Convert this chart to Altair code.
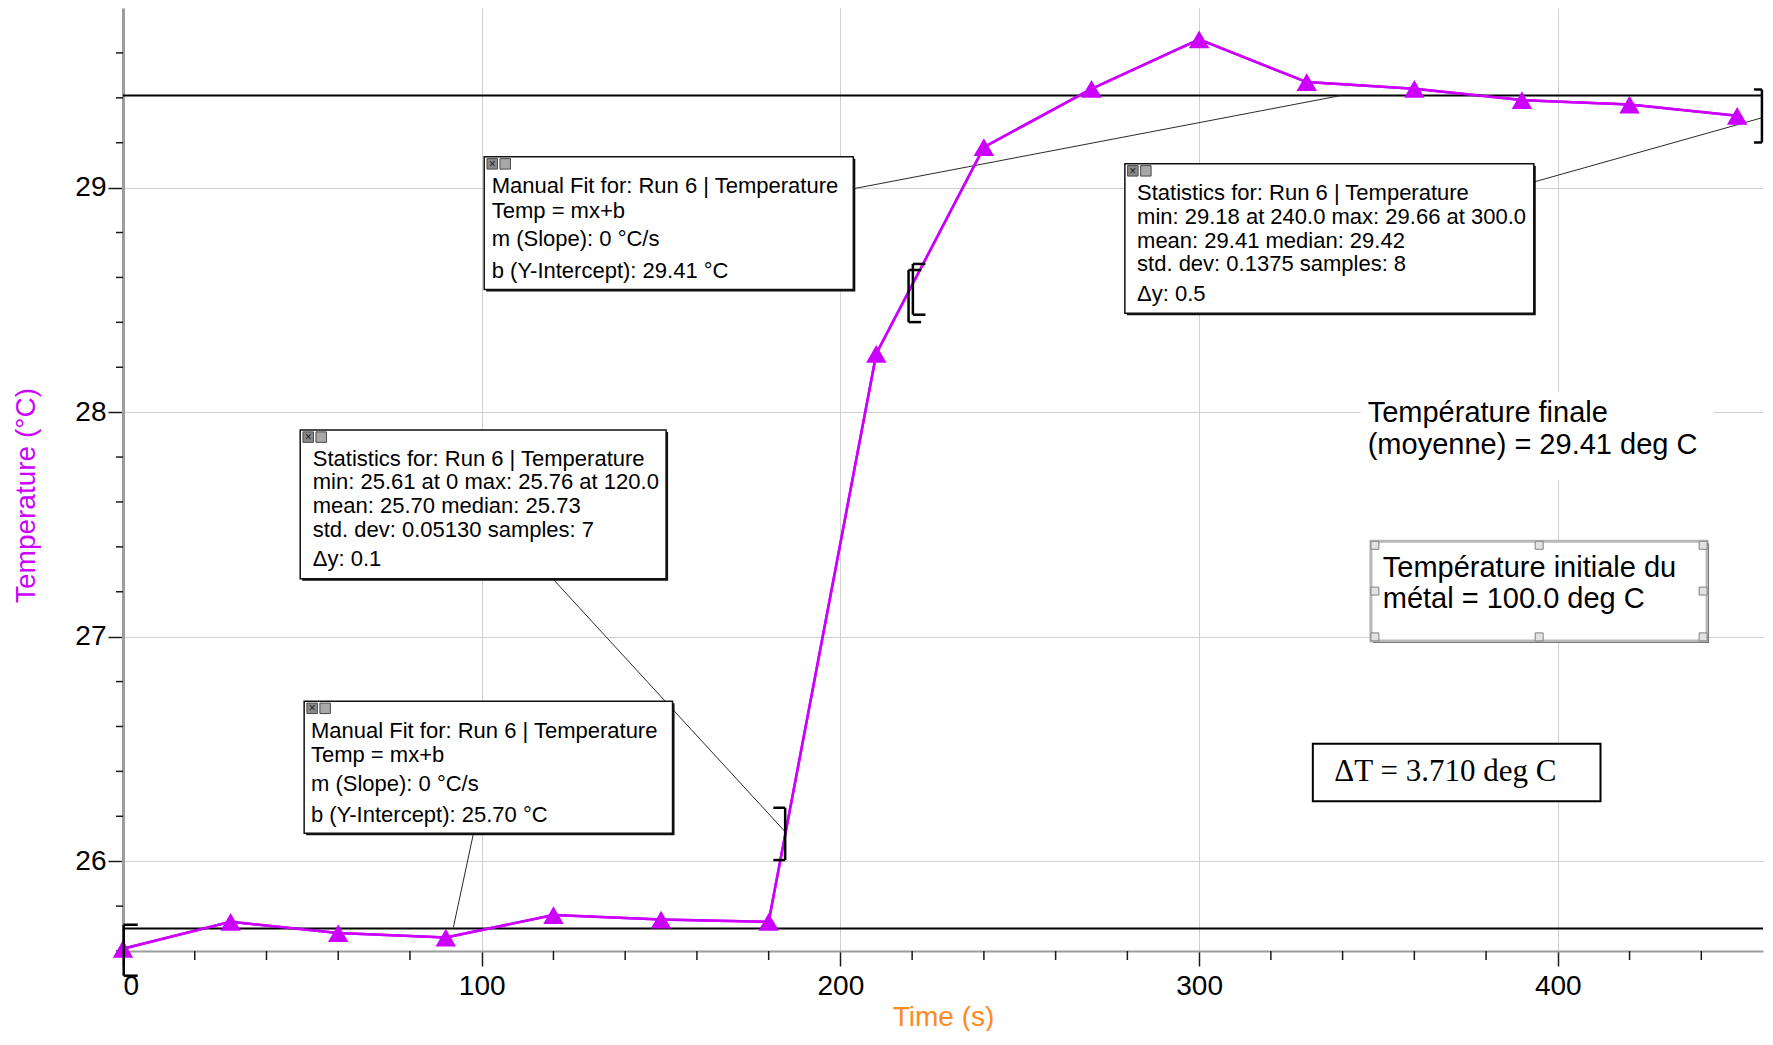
import altair as alt
import pandas as pd

# ---------------- data ----------------
time_s = [0, 30, 60, 90, 120, 150, 180, 210, 240, 270, 300, 330, 360, 390, 420, 450]
temperature_c = [25.61, 25.73, 25.68, 25.66, 25.76, 25.74, 25.73, 28.26, 29.18,
                 29.44, 29.66, 29.47, 29.44, 29.39, 29.37, 29.32]
fit_b = [29.41, 25.70]

x_major = [0, 100, 200, 300, 400]
x_minor = [20, 40, 60, 80, 120, 140, 160, 180, 220, 240, 260, 280,
           320, 340, 360, 380, 420, 440]
y_major = [26, 27, 28, 29]
y_minor = [25.6, 25.8, 26.2, 26.4, 26.6, 26.8, 27.2, 27.4, 27.6, 27.8,
           28.2, 28.4, 28.6, 28.8, 29.2, 29.4, 29.6]

# ---------------- annotation texts ----------------
upper_fit_lines = ["Manual Fit for: Run 6 | Temperature", "Temp = mx+b",
                   "m (Slope): 0 °C/s", "b (Y-Intercept): 29.41 °C"]
upper_stats_lines = ["Statistics for: Run 6 | Temperature",
                     "min: 29.18 at 240.0 max: 29.66 at 300.0",
                     "mean: 29.41 median: 29.42", "std. dev: 0.1375 samples: 8", "Δy: 0.5"]
lower_stats_lines = ["Statistics for: Run 6 | Temperature",
                     "min: 25.61 at 0 max: 25.76 at 120.0",
                     "mean: 25.70 median: 25.73", "std. dev: 0.05130 samples: 7", "Δy: 0.1"]
lower_fit_lines = ["Manual Fit for: Run 6 | Temperature", "Temp = mx+b",
                   "m (Slope): 0 °C/s", "b (Y-Intercept): 25.70 °C"]
final_note = ["Température finale", "(moyenne) = 29.41 deg C"]
metal_note = ["Température initiale du", "métal = 100.0 deg C"]
delta_note = ["ΔT = 3.710 deg C"]

# ---------------- annotation placement (data units) ----------------
X_MAX = 457.2
box_x0 = [100.7, 279.3, 49.4, 50.5]
box_x1 = [203.6, 393.3, 151.4, 153.2]
box_ytop = [29.137, 29.106, 27.920, 26.712]
box_ybot = [28.546, 28.441, 27.258, 26.124]
box_text_x = [102.8, 282.7, 52.9, 52.4]
box_text_y = [[29.007, 28.896, 28.771, 28.630],
              [28.978, 28.867, 28.763, 28.660, 28.527],
              [27.790, 27.687, 27.580, 27.477, 27.347],
              [26.582, 26.471, 26.345, 26.205]]
box_lines = [upper_fit_lines, upper_stats_lines, lower_stats_lines, lower_fit_lines]

leader_x = [203.6, 393.3, 119.8, 97.7]
leader_y = [28.995, 29.025, 27.258, 26.124]
leader_x2 = [339.5, 456.9, 184.6, 92.1]
leader_y2 = [29.41, 29.311, 26.131, 25.705]

# brackets: spine x, arm end x, top y, bottom y
bracket_x = [0.2, 184.6, 219.0, 220.2, 456.9]
bracket_arm = [4.1, 181.3, 222.5, 223.7, 454.7]
bracket_top = [25.717, 26.238, 28.633, 28.660, 29.437]
bracket_bot = [25.49, 26.005, 28.401, 28.434, 29.201]

final_bg = [345.1, 443.5, 27.698, 28.089]
final_text_x = [347.0, 347.0]
final_text_y = [27.994, 27.854]

metal_box = [347.9, 441.6, 26.981, 27.425]
metal_text_x = [351.2, 351.2]
metal_text_y = [27.307, 27.166]
handle_x = [349.0, 394.8, 440.5, 349.0, 440.5, 349.0, 394.8, 440.5]
handle_y = [27.407, 27.407, 27.407, 27.203, 27.203, 26.999, 26.999, 26.999]

delta_box = [331.7, 411.9, 26.267, 26.523]
delta_text_x = [337.7]
delta_text_y = [26.399]

# ---------------- styles ----------------
MAG = "#CC00FF"
ORANGE = "#FF8A1F"
FONT = "Liberation Sans"
TICK = "#1a1a1a"

xs = alt.Scale(domain=[0, X_MAX], nice=False, zero=False)
ys = alt.Scale(domain=[25.6, 29.80], nice=False, zero=False)


def X(f):
    return alt.X(f"{f}:Q", scale=xs)


def Y(f):
    return alt.Y(f"{f}:Q", scale=ys)


x_axis = alt.Axis(
    values=x_major, title="Time (s)", format="d",
    tickSize=15, tickColor=TICK, tickWidth=1.5,
    grid=True, gridColor="#d0d0d0", gridWidth=1,
    domainColor="#9c9c9c", domainWidth=2,
    labelFont=FONT, labelFontSize=28, labelColor="black", labelPadding=6,
    titleFont=FONT, titleFontSize=28, titleFontWeight="normal", titleColor=ORANGE,
    titlePadding=3,
)
y_axis = alt.Axis(
    values=y_major, title="Temperature (°C)", format="d",
    tickSize=15, tickColor=TICK, tickWidth=1.5,
    grid=True, gridColor="#d0d0d0", gridWidth=1,
    domainColor="#9c9c9c", domainWidth=3,
    labelFont=FONT, labelFontSize=28, labelColor="black", labelPadding=2,
    titleFont=FONT, titleFontSize=28, titleFontWeight="normal", titleColor=MAG,
    titlePadding=34, titleY=487,
)

# ---------------- tables ----------------
df_line = pd.DataFrame({"t": time_s, "temp": temperature_c})
df_fit = pd.DataFrame({"b": fit_b, "x0": [0, 0], "x1": [X_MAX, X_MAX]})
df_leader = pd.DataFrame({"x": leader_x, "y": leader_y, "x2": leader_x2, "y2": leader_y2})
df_minor_x = pd.DataFrame({"v": x_minor, "base": [25.6] * len(x_minor)})
df_minor_y = pd.DataFrame({"v": y_minor, "base": [0] * len(y_minor)})

seg = []
for sx, xa, yt, yb in zip(bracket_x, bracket_arm, bracket_top, bracket_bot):
    seg.append({"x": sx, "y": yt, "x2": sx, "y2": yb})
    seg.append({"x": sx, "y": yt, "x2": xa, "y2": yt})
    seg.append({"x": sx, "y": yb, "x2": xa, "y2": yb})
df_bracket = pd.DataFrame(seg)

df_boxes = pd.DataFrame({"x0": box_x0, "x1": box_x1, "ytop": box_ytop, "ybot": box_ybot})
rows = []
for i in range(4):
    for line_, yy in zip(box_lines[i], box_text_y[i]):
        rows.append({"x": box_text_x[i], "y": yy, "label": line_})
df_box_text = pd.DataFrame(rows)

df_final_bg = pd.DataFrame({"x0": [final_bg[0]], "x1": [final_bg[1]], "y0": [final_bg[2]], "y1": [final_bg[3]]})
df_final_text = pd.DataFrame({"x": final_text_x, "y": final_text_y, "label": final_note})
df_metal_box = pd.DataFrame({"x0": [metal_box[0]], "x1": [metal_box[1]], "y0": [metal_box[2]], "y1": [metal_box[3]]})
df_metal_text = pd.DataFrame({"x": metal_text_x, "y": metal_text_y, "label": metal_note})
df_handles = pd.DataFrame({"x": handle_x, "y": handle_y})
df_delta_box = pd.DataFrame({"x0": [delta_box[0]], "x1": [delta_box[1]], "y0": [delta_box[2]], "y1": [delta_box[3]]})
df_delta_text = pd.DataFrame({"x": delta_text_x, "y": delta_text_y, "label": delta_note})

# ---------------- layers ----------------
line_layer = alt.Chart(df_line).mark_line(color=MAG, strokeWidth=2.5).encode(
    x=alt.X("t:Q", scale=xs, axis=x_axis), y=alt.Y("temp:Q", scale=ys, axis=y_axis))

final_bg_layer = alt.Chart(df_final_bg).mark_rect(fill="white").encode(
    x=X("x0"), x2=alt.X2("x1"), y=Y("y0"), y2=alt.Y2("y1"))

minor_x_layer = alt.Chart(df_minor_x).mark_rule(color=TICK, strokeWidth=1.5, y2Offset=9).encode(
    x=X("v"), y=Y("base"), y2=alt.Y2("base"))
minor_y_layer = alt.Chart(df_minor_y).mark_rule(color=TICK, strokeWidth=1.5, xOffset=-7).encode(
    y=Y("v"), x=X("base"), x2=alt.X2("base"))

fit_layer = alt.Chart(df_fit).mark_rule(color="black", strokeWidth=2).encode(
    x=X("x0"), x2=alt.X2("x1"), y=Y("b"))

leader_layer = alt.Chart(df_leader).mark_rule(color="#2a2a2a", strokeWidth=1).encode(
    x=X("x"), y=Y("y"), x2=alt.X2("x2"), y2=alt.Y2("y2"))

line_top = alt.Chart(df_line).mark_line(color=MAG, strokeWidth=2.5).encode(
    x=X("t"), y=Y("temp"))

point_layer = alt.Chart(df_line).mark_point(
    shape="triangle-up", filled=True, size=420, color=MAG, opacity=1).encode(
    x=X("t"), y=Y("temp"))

bracket_layer = alt.Chart(df_bracket).mark_rule(color="black", strokeWidth=2.5).encode(
    x=X("x"), y=Y("y"), x2=alt.X2("x2"), y2=alt.Y2("y2"))

shadow_layer = alt.Chart(df_boxes).mark_rect(
    fill="#111111", xOffset=2, x2Offset=2, yOffset=2, y2Offset=2).encode(
    x=X("x0"), x2=alt.X2("x1"), y=Y("ytop"), y2=alt.Y2("ybot"))

box_layer = alt.Chart(df_boxes).mark_rect(
    fill="white", stroke="#111111", strokeWidth=1.5).encode(
    x=X("x0"), x2=alt.X2("x1"), y=Y("ytop"), y2=alt.Y2("ybot"))

icon1_layer = alt.Chart(df_boxes).mark_point(
    shape="square", filled=True, size=110, fill="#8a8a8a", stroke="#4a4a4a",
    strokeWidth=1, opacity=1, xOffset=8, yOffset=7).encode(x=X("x0"), y=Y("ytop"))
icon2_layer = alt.Chart(df_boxes).mark_point(
    shape="square", filled=True, size=110, fill="#a8a8a8", stroke="#4a4a4a",
    strokeWidth=1, opacity=1, xOffset=21, yOffset=7).encode(x=X("x0"), y=Y("ytop"))
icon1_glyph = alt.Chart(df_boxes).mark_text(
    text="×", font=FONT, fontSize=12, color="#222222", dx=8, dy=7,
    align="center", baseline="middle").encode(x=X("x0"), y=Y("ytop"))

box_text_layer = alt.Chart(df_box_text).mark_text(
    align="left", baseline="middle", font=FONT, fontSize=22, color="black").encode(
    x=X("x"), y=Y("y"), text="label:N")

final_text_layer = alt.Chart(df_final_text).mark_text(
    align="left", baseline="middle", font=FONT, fontSize=29, color="black").encode(
    x=X("x"), y=Y("y"), text="label:N")

metal_shadow = alt.Chart(df_metal_box).mark_rect(
    fill="#3a3a3a", xOffset=2, x2Offset=2, yOffset=2, y2Offset=2).encode(
    x=X("x0"), x2=alt.X2("x1"), y=Y("y0"), y2=alt.Y2("y1"))
metal_box_layer = alt.Chart(df_metal_box).mark_rect(
    fill="white", stroke="#b8b8b8", strokeWidth=3).encode(
    x=X("x0"), x2=alt.X2("x1"), y=Y("y0"), y2=alt.Y2("y1"))
handle_layer = alt.Chart(df_handles).mark_point(
    shape="square", filled=True, size=64, fill="#e2e2e2", stroke="#808080",
    strokeWidth=1, opacity=1).encode(x=X("x"), y=Y("y"))
metal_text_layer = alt.Chart(df_metal_text).mark_text(
    align="left", baseline="middle", font=FONT, fontSize=29, color="black").encode(
    x=X("x"), y=Y("y"), text="label:N")

delta_box_layer = alt.Chart(df_delta_box).mark_rect(
    fill="white", stroke="black", strokeWidth=2).encode(
    x=X("x0"), x2=alt.X2("x1"), y=Y("y0"), y2=alt.Y2("y1"))
delta_text_layer = alt.Chart(df_delta_text).mark_text(
    align="left", baseline="middle", font="Liberation Serif", fontSize=31, color="black").encode(
    x=X("x"), y=Y("y"), text="label:N")

chart = alt.layer(
    line_layer, final_bg_layer, minor_x_layer, minor_y_layer, fit_layer, leader_layer,
    line_top, point_layer, bracket_layer,
    shadow_layer, box_layer, icon1_layer, icon2_layer, icon1_glyph, box_text_layer,
    final_text_layer, metal_shadow, metal_box_layer, handle_layer, metal_text_layer,
    delta_box_layer, delta_text_layer,
).properties(
    width=1640, height=943,
    padding={"left": 4, "top": 0, "right": 0, "bottom": 0},
    background="white",
).configure_view(stroke=None)

chart.save("out.html", embed_options={"renderer": "svg", "actions": False})
